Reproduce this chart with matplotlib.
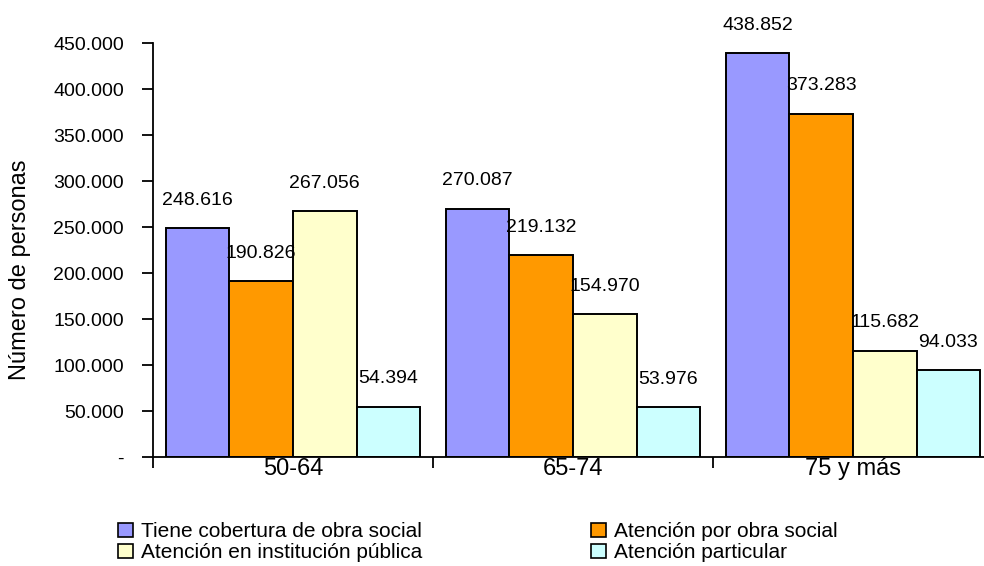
import numpy as np
import matplotlib.pyplot as plt
from matplotlib.ticker import FuncFormatter, FixedLocator
from matplotlib.patches import Patch

plt.rcParams['font.family'] = ['Liberation Sans', 'DejaVu Sans']

grupos = ["50-64", "65-74", "75 y más"]
series = ["Tiene cobertura de obra social", "Atención por obra social",
          "Atención en institución pública", "Atención particular"]
cobertura = [248616, 270087, 438852]
obra_social = [190826, 219132, 373283]
inst_publica = [267056, 154970, 115682]
particular = [54394, 53976, 94033]
colores = ["#9999FF", "#FF9900", "#FFFFCC", "#CCFFFF"]

valores = [cobertura, obra_social, inst_publica, particular]

fig = plt.figure(figsize=(9.84, 5.66), dpi=100)
ax = fig.add_axes([153/984, 109/566, 840/984, 414/566])

x = np.arange(len(grupos))
w = 0.227
for i, (vals, col) in enumerate(zip(valores, colores)):
    pos = x + (i - 1.5) * w
    ax.bar(pos, vals, width=w, color=col, edgecolor="black", linewidth=1.4)
    for p, v in zip(pos, vals):
        etiqueta = f"{v:,}".replace(",", ".")
        ax.annotate(etiqueta, (p, v), xytext=(0, 17), textcoords="offset points",
                    ha="center", va="baseline", fontsize=14, annotation_clip=False)

ax.set_xlim(-0.5, 2.5)
ax.set_ylim(0, 450000)
ax.set_yticks(np.arange(0, 450001, 50000))
ax.yaxis.set_major_formatter(FuncFormatter(
    lambda v, _: "-" if v == 0 else f"{int(v):,}".replace(",", ".")))
ax.tick_params(axis="y", direction="out", length=8, width=1.3, pad=13, labelsize=14)

ax.xaxis.set_major_locator(FixedLocator([-0.5, 0.5, 1.5, 2.5]))
ax.xaxis.set_minor_locator(FixedLocator(x))
ax.set_xticklabels([], minor=False)
ax.set_xticklabels(grupos, minor=True)
ax.tick_params(axis="x", which="major", direction="out", length=8, width=1.3)
ax.tick_params(axis="x", which="minor", length=0, pad=1, labelsize=17)

for s in ["top", "right"]:
    ax.spines[s].set_visible(False)
for s in ["left", "bottom"]:
    ax.spines[s].set_linewidth(1.3)

fig.text(20/984, 1 - 270/566, "Número de personas", rotation=90,
         ha="center", va="center", fontsize=17)

handles = [Patch(facecolor=c, edgecolor="black", linewidth=1.2) for c in colores]
orden = [0, 2, 1, 3]
fig.legend([handles[i] for i in orden], [series[i] for i in orden],
           ncol=2, frameon=False, fontsize=15,
           loc="upper left", bbox_to_anchor=(110/984, 1 - 514/566),
           handlelength=0.7, handleheight=0.7, handletextpad=0.4,
           columnspacing=8.1, labelspacing=0.1, borderaxespad=0)

fig.savefig("out.png", dpi=100)
